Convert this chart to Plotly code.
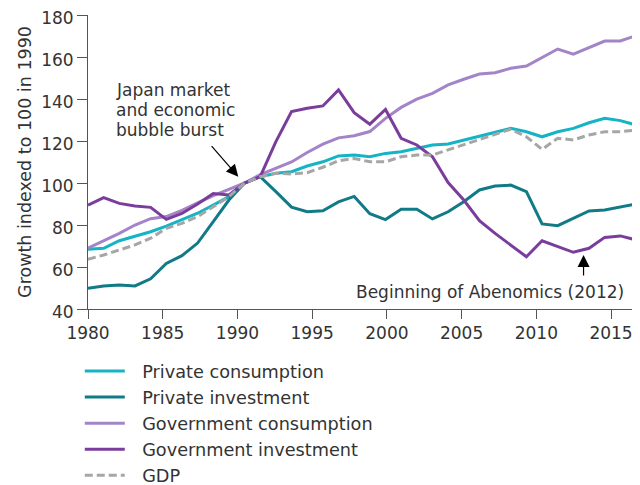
import plotly.graph_objects as go

years = list(range(1980, 2016))

private_consumption = [68.4, 68.9, 72.5, 74.8, 76.8, 79.5, 82.4, 85.6, 89.5, 93.5,
                       100, 103, 104.6, 105.4, 108.1, 110.1, 112.9, 113.3, 112.5, 114.1,
                       114.9, 116.5, 118.1, 118.6, 120.5, 122.4, 124.0, 126.0, 124.4, 122.0,
                       124.4, 126.0, 128.7, 130.8, 129.7, 127.6]
private_investment = [49.9, 51.0, 51.4, 51.0, 54.4, 61.7, 65.4, 71.4, 81.6, 91.9,
                      100, 103, 95.9, 88.5, 86.3, 86.8, 91.0, 93.6, 85.4, 82.6,
                      87.5, 87.5, 82.9, 86.3, 91.1, 96.7, 98.6, 99.0, 95.9, 80.5,
                      79.7, 83.2, 86.7, 87.1, 88.7, 90.0]
gov_consumption = [69.0, 72.5, 76.0, 80.0, 83.0, 84.0, 87.0, 90.5, 94.0, 97.0,
                   100, 104, 107, 110, 114.5, 118.5, 121.5, 122.5, 124.5, 130.8,
                   136.0, 139.9, 142.7, 146.7, 149.4, 151.9, 152.5, 154.6, 155.7, 159.8,
                   163.8, 161.4, 164.4, 167.6, 167.6, 170.2]
gov_investment = [89.5, 93.0, 90.3, 89.0, 88.4, 82.7, 85.5, 90.0, 95.0, 94.3,
                  100, 103, 119.7, 134.0, 135.6, 136.7, 144.3, 133.5, 128.0, 135.0,
                  121.3, 118.1, 112.5, 100.2, 91.9, 82.1, 76.0, 70.5, 64.9, 72.5,
                  69.7, 67.0, 68.9, 74.1, 74.8, 72.9]
gdp = [63.7, 65.7, 68.1, 70.5, 73.7, 78.4, 80.8, 84.0, 88.7, 93.5,
       100, 103, 104.6, 104.3, 104.9, 107.5, 110.6, 111.7, 110.1, 110.1,
       112.5, 113.3, 113.3, 115.7, 118.1, 120.5, 122.9, 125.6, 122.0, 116.0,
       121.3, 120.5, 122.9, 124.4, 124.4, 125.2]

tick_years = [1980, 1985, 1990, 1995, 2000, 2005, 2010, 2015]

# the printed axis is a bit stretched against the data (36 points span ~36.7 label-years)
stretch = 35 / 36.67
tickvals = [1980 + (t - 1980) * stretch for t in tick_years]

FONT = "DejaVu Sans, Verdana, sans-serif"
TXT = "#333333"
FS = 17

series = [
    ("Private consumption", private_consumption, "#14b4c4", None),
    ("Private investment", private_investment, "#107a87", None),
    ("Government consumption", gov_consumption, "#a384c8", None),
    ("Government investment", gov_investment, "#7b3d9b", None),
    ("GDP", gdp, "#a6a6a6", "8px,4px"),
]

fig = go.Figure()
for name, vals, col, dash in series:
    # en space + thin space widens the gap between legend line and label
    fig.add_trace(go.Scatter(x=years, y=vals, mode="lines", name="\u2002\u2009" + name,
                             line=dict(color=col, width=3, dash=dash)))

fig.update_xaxes(range=[1980, 2015], tickvals=tickvals, ticktext=[str(t) for t in tick_years],
                 showline=True, linecolor="#555555", linewidth=1, ticks="outside",
                 ticklen=9, tickcolor="#555555", showgrid=False, zeroline=False,
                 automargin=False, ticklabeloverflow="allow", tickfont=dict(size=FS, color=TXT))
fig.update_yaxes(range=[40, 180], dtick=20, showline=True, linecolor="#555555", linewidth=1,
                 ticks="outside", ticklen=10, tickcolor="#555555", showgrid=False, zeroline=False,
                 automargin=False, ticklabeloverflow="allow", ticklabelshift=3,
                 tickfont=dict(size=FS, color=TXT),
                 title=dict(text="Growth indexed to 100 in 1990", font=dict(size=17.5, color=TXT),
                            standoff=5))

# plot area in pixels of the target picture; the page puts the figure 8px in from the corner
L, T, W, H = 88, 15, 548, 294
OFF = 8

burst_lines = ["Japan market", "and economic", "bubble burst"]
for i, ln in enumerate(burst_lines):
    fig.add_annotation(x=(114 - L) / W, y=1 - (90 + 20 * i - T) / H,
                       xref="x domain", yref="y domain",
                       text=ln, showarrow=False, xanchor="left", yanchor="middle",
                       font=dict(size=FS, color=TXT, family=FONT))

fig.add_annotation(x=1989.6, y=103, xref="x", yref="y", text="", showarrow=True,
                   ax=-28, ay=-32, arrowhead=2, arrowsize=2, arrowwidth=1.2, arrowcolor="#000000")
fig.add_annotation(x=2011.65, y=65.7, xref="x", yref="y", text="", showarrow=True,
                   ax=0, ay=22, arrowhead=2, arrowsize=2, arrowwidth=1.2, arrowcolor="#000000")
fig.add_annotation(x=(626 - L) / W, y=1 - (292 - T) / H, xref="x domain", yref="y domain",
                   text="Beginning of Abenomics (2012)", showarrow=False,
                   xanchor="right", yanchor="middle", font=dict(size=FS, color=TXT, family=FONT))

fig.update_layout(
    width=640 - OFF, height=485 - OFF,
    margin=dict(l=L - OFF, r=640 - L - W, t=T - OFF, b=485 - T - H, autoexpand=False),
    paper_bgcolor="white", plot_bgcolor="white",
    font=dict(family=FONT, size=FS, color=TXT),
    showlegend=True,
    legend=dict(x=-0.015, y=-0.15, xanchor="left", yanchor="top", orientation="v",
                font=dict(size=17.7, color=TXT), itemwidth=40, bgcolor="rgba(0,0,0,0)"),
)

fig.write_html("out.html")
